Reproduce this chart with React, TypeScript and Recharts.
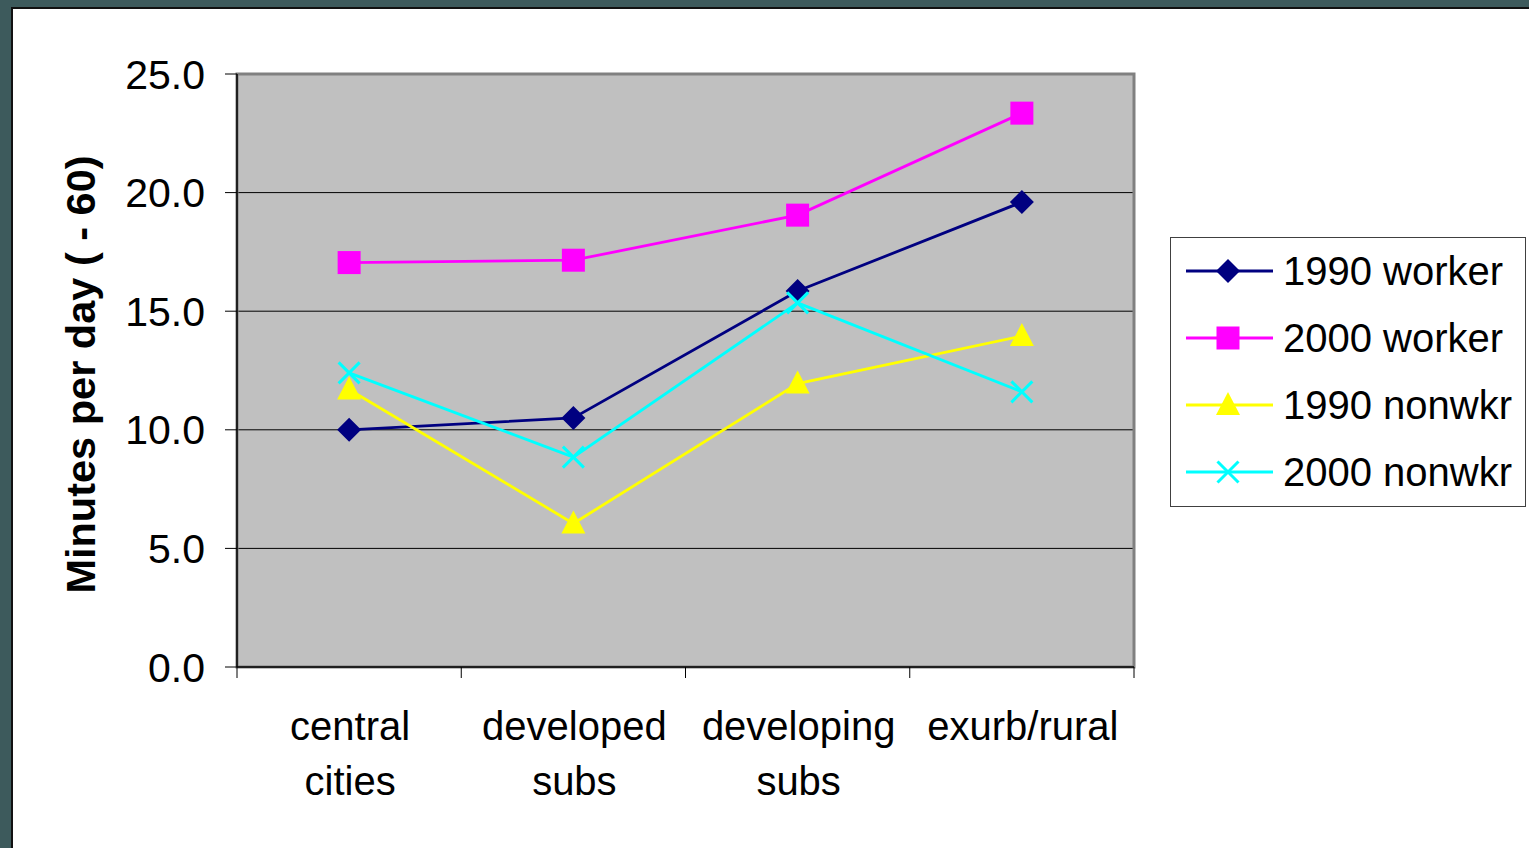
import React from 'react';
import {
  LineChart,
  Line,
  XAxis,
  YAxis,
  CartesianGrid,
  ReferenceArea,
  Legend,
} from 'recharts';

const CATEGORIES = ['central cities', 'developed subs', 'developing subs', 'exurb/rural'];
const WORKER_1990 = [10.0, 10.5, 15.85, 19.6];
const WORKER_2000 = [17.05, 17.15, 19.05, 23.35];
const NONWKR_1990 = [11.7, 6.05, 11.95, 13.95];
const NONWKR_2000 = [12.4, 8.85, 15.35, 11.6];
const Y_TICKS = [0, 5, 10, 15, 20, 25];

const FONT = '"Liberation Sans", Arial, sans-serif';

const SERIES = [
  { key: 'w1990', name: '1990 worker', color: '#000080', shape: 'diamond', values: WORKER_1990 },
  { key: 'w2000', name: '2000 worker', color: '#FF00FF', shape: 'square', values: WORKER_2000 },
  { key: 'n1990', name: '1990 nonwkr', color: '#FFFF00', shape: 'triangle', values: NONWKR_1990 },
  { key: 'n2000', name: '2000 nonwkr', color: '#00FFFF', shape: 'cross', values: NONWKR_2000 },
];

const data = CATEGORIES.map((cat, i) => {
  const row: Record<string, any> = { cat };
  SERIES.forEach((s) => (row[s.key] = s.values[i]));
  return row;
});

function Marker({ shape, color, cx, cy }: { shape: string; color: string; cx: number; cy: number }) {
  if (shape === 'diamond') {
    const r = 12;
    return <polygon points={`${cx},${cy - r} ${cx + r},${cy} ${cx},${cy + r} ${cx - r},${cy}`} fill={color} />;
  }
  if (shape === 'square') {
    const r = 11.5;
    return <rect x={cx - r} y={cy - r} width={2 * r} height={2 * r} fill={color} />;
  }
  if (shape === 'triangle') {
    return <polygon points={`${cx},${cy - 13} ${cx + 12},${cy + 10} ${cx - 12},${cy + 10}`} fill={color} />;
  }
  const r = 10.5;
  return (
    <g stroke={color} strokeWidth={3}>
      <line x1={cx - r} y1={cy - r} x2={cx + r} y2={cy + r} />
      <line x1={cx - r} y1={cy + r} x2={cx + r} y2={cy - r} />
    </g>
  );
}

function CategoryTick(props: any) {
  const { x, y, payload, index } = props;
  const half = payload?.offset ?? 112;
  const lines = String(payload.value).split(' ');
  return (
    <g>
      <line x1={x - half} y1={y} x2={x - half} y2={y + 11} stroke="#000" strokeWidth={1} />
      {index === CATEGORIES.length - 1 && (
        <line x1={x + half} y1={y} x2={x + half} y2={y + 11} stroke="#000" strokeWidth={1} />
      )}
      {lines.map((l, i) => (
        <text key={i} x={x + 1} y={y + 73 + i * 55} textAnchor="middle" fontSize={40} fontFamily={FONT} fill="#000">
          {l}
        </text>
      ))}
    </g>
  );
}

function YLabel(props: any) {
  const { viewBox } = props;
  const cx = 80;
  const cy = viewBox.y + viewBox.height / 2 + 4;
  return (
    <text
      x={cx}
      y={cy}
      transform={`rotate(-90 ${cx} ${cy})`}
      textAnchor="middle"
      dominantBaseline="central"
      fontSize={41.5}
      fontWeight="bold"
      fontFamily={FONT}
      fill="#000"
    >
      Minutes per day ( - 60)
    </text>
  );
}

function LegendBox() {
  return (
    <div style={{ width: 356, height: 270, border: '1px solid #404040', boxSizing: 'border-box', background: '#fff' }}>
      <svg width={354} height={268}>
        {SERIES.map((s, i) => {
          const cy = 33 + i * 67;
          return (
            <g key={s.key}>
              <line x1={15} y1={cy} x2={102} y2={cy} stroke={s.color} strokeWidth={3} />
              <Marker shape={s.shape} color={s.color} cx={57} cy={cy} />
              <text x={112} y={cy} dominantBaseline="central" fontSize={40} fontFamily={FONT} fill="#000">
                {s.name}
              </text>
            </g>
          );
        })}
      </svg>
    </div>
  );
}

export default function App() {
  return (
    <div style={{ position: 'absolute', left: 0, top: 0, width: 1529, height: 848, background: '#3d5a5c', overflow: 'hidden' }}>
      <div
        style={{
          position: 'absolute',
          left: 11,
          top: 7,
          width: 1540,
          height: 860,
          background: '#fff',
          borderLeft: '2px solid #111',
          borderTop: '2px solid #111',
        }}
      />
      <div style={{ position: 'absolute', left: 0, top: 0 }}>
        <LineChart
          width={1529}
          height={848}
          data={data}
          margin={{ top: 74, right: 395, bottom: 41, left: 0 }}
          style={{ fontFamily: FONT }}
        >
          <CartesianGrid vertical={false} fill="#C0C0C0" stroke="#000" strokeWidth={1} />
          <ReferenceArea y1={0} y2={25} fill="none" stroke="#808080" strokeWidth={3} />
          <XAxis
            dataKey="cat"
            scale="band"
            height={140}
            tickSize={0}
            tickMargin={0}
            tickLine={false}
            axisLine={{ stroke: '#000', strokeWidth: 1.5 }}
            tick={<CategoryTick />}
            interval={0}
          />
          <YAxis
            width={237}
            domain={[0, 25]}
            ticks={Y_TICKS}
            tickFormatter={(v: number) => v.toFixed(1)}
            tickSize={12}
            tickMargin={20}
            tickLine={{ stroke: '#000' }}
            axisLine={{ stroke: '#000', strokeWidth: 1.5 }}
            tick={{ fontSize: 41, fill: '#000', fontFamily: FONT }}
            label={<YLabel />}
          />
          {SERIES.map((s) => (
            <Line
              key={s.key}
              dataKey={s.key}
              name={s.name}
              stroke={s.color}
              strokeWidth={2.8}
              isAnimationActive={false}
              dot={(p: any) => <Marker key={`${s.key}-${p.index}`} shape={s.shape} color={s.color} cx={p.cx} cy={p.cy} />}
              activeDot={false}
            />
          ))}
          <Legend
            layout="vertical"
            align="center"
            verticalAlign="middle"
            wrapperStyle={{ left: 1170, top: 237, width: 356, height: 270 }}
            content={() => <LegendBox />}
          />
        </LineChart>
      </div>
    </div>
  );
}
